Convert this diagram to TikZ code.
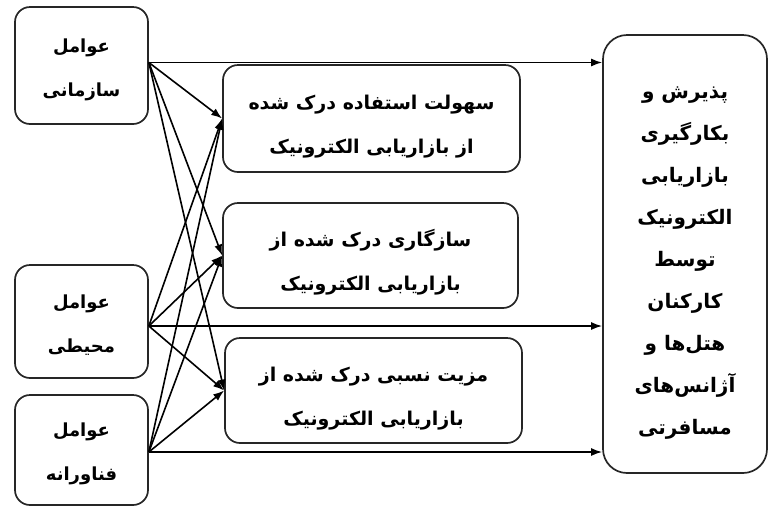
\documentclass[tikz,border=0pt]{standalone}
\usepackage{fontspec}
\newfontfamily\arabicfont[Script=Arabic]{DejaVu Sans}
\TeXXeTstate=1
\usetikzlibrary{arrows.meta}
\newcommand\boxtext[2]{\raisebox{#1}[\height][\depth]{\begin{tabular}{@{}c@{}}#2\end{tabular}}}
\begin{document}
\begin{tikzpicture}[x=1pt,y=-1pt,
  box/.style={draw, line width=1.7pt, draw=black!85, rounded corners=15pt, inner sep=0pt},
  lefttxt/.style={font=\arabicfont\bfseries\fontsize{18}{44}\selectfont},
  midtxt/.style={font=\arabicfont\bfseries\fontsize{19}{44}\selectfont},
  righttxt/.style={font=\arabicfont\bfseries\fontsize{20}{42}\selectfont},
  conn/.style={line width=1.6pt, -{Latex[length=11pt,width=8pt]}}]
\useasboundingbox (0,0) rectangle (771,507);
\node[box, lefttxt, minimum width=133pt, minimum height=117pt] (A) at (81.5,65.5) {\boxtext{0pt}{\beginR عوامل\endR\\\beginR سازمانی\endR}};
\node[box, lefttxt, minimum width=133pt, minimum height=113pt] (B) at (81.5,321.5) {\boxtext{0pt}{\beginR عوامل\endR\\\beginR محیطی\endR}};
\node[box, lefttxt, minimum width=133pt, minimum height=110pt] (C) at (81.5,450) {\boxtext{0pt}{\beginR عوامل\endR\\\beginR فناورانه\endR}};
\node[box, midtxt, minimum width=297pt, minimum height=107pt] (M1) at (371.5,118.5) {\boxtext{-4pt}{\beginR سهولت استفاده درک شده\endR\\\beginR از بازاریابی الکترونیک\endR}};
\node[box, midtxt, minimum width=295pt, minimum height=105pt] (M2) at (370.5,255.5) {\boxtext{-4pt}{\beginR سازگاری درک شده از\endR\\\beginR بازاریابی الکترونیک\endR}};
\node[box, midtxt, minimum width=297pt, minimum height=105pt] (M3) at (373.5,390.5) {\boxtext{-4pt}{\beginR مزیت نسبی درک شده از\endR\\\beginR بازاریابی الکترونیک\endR}};
\node[box, righttxt, rounded corners=24pt, minimum width=164pt, minimum height=438pt] (R) at (685,254) {\boxtext{-4pt}{\beginR پذیرش و\endR\\\beginR بکارگیری\endR\\\beginR بازاریابی\endR\\\beginR الکترونیک\endR\\\beginR توسط\endR\\\beginR کارکنان\endR\\\beginR هتل‌ها و\endR\\\beginR آژانس‌های\endR\\\beginR مسافرتی\endR}};
\coordinate (Ao) at ([yshift=3pt]A.east);
\coordinate (Bo) at ([yshift=-4.5pt]B.east);
\coordinate (Co) at ([yshift=-2pt]C.east);
\foreach \s in {Ao,Bo,Co}{
  \foreach \t in {M1,M2,M3}{
    \draw[conn] (\s) -- (\t.west);
  }
  \draw[conn] (\s) -- (\s -| R.west);
}
\end{tikzpicture}
\end{document}
